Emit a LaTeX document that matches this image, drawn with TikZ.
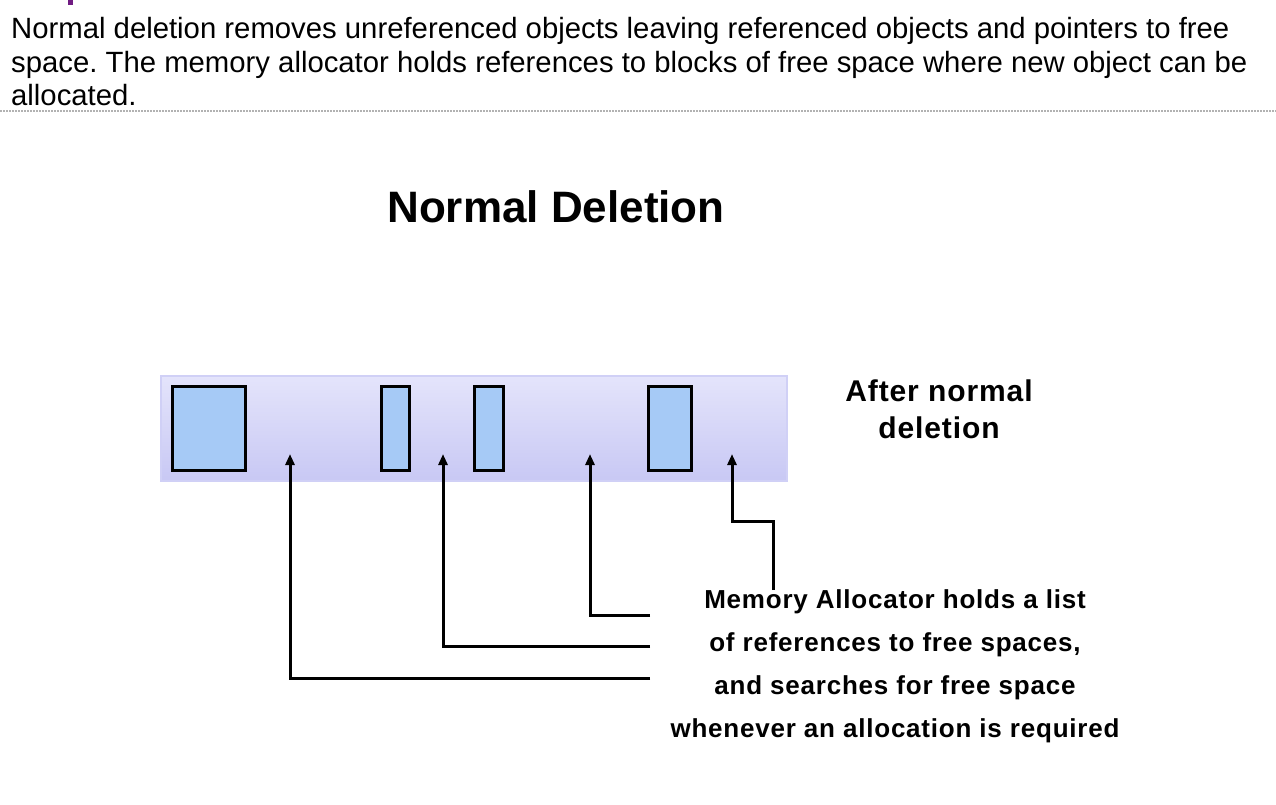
\documentclass[tikz,border=0pt]{standalone}
\usepackage{fontspec}
\setmainfont{Liberation Sans}
\frenchspacing
\usetikzlibrary{arrows.meta}
\definecolor{heaptop}{RGB}{228,228,251}
\definecolor{heapbot}{RGB}{200,200,244}
\definecolor{heapedge}{RGB}{208,208,246}
\definecolor{objfill}{RGB}{166,202,246}
\definecolor{headpurple}{RGB}{112,28,130}

\begin{document}
\begin{tikzpicture}[x=1pt, y=-1pt, >={Triangle[length=11pt,width=9pt]}]
			\tikzstyle{every node}=[align=center, inner sep=0pt]
			\tikzstyle{obj}=[draw, line width=3pt, fill=objfill, minimum height=84pt]
			\tikzstyle{ptr}=[->, line width=3pt]
				\useasboundingbox (0,0) rectangle (1276,804);
				\fill[headpurple] (68,0) rectangle (73,5);

				\node[anchor=base west, font=\fontsize{29.3}{33}\selectfont] (introA) at (11,38) {Normal deletion removes unreferenced objects leaving referenced objects and pointers to free};
				\node[anchor=base west, font=\fontsize{29.3}{33}\selectfont] (introB) at (11,72) {space. The memory allocator holds references to blocks of free space where new object can be};
				\node[anchor=base west, font=\fontsize{29.3}{33}\selectfont] (introC) at (11,105) {allocated.};
				\coordinate (ruleL) at (0,111);
				\coordinate (ruleR) at (1276,111);
				\draw[gray!60, line width=1.2pt, dash pattern=on 1.5pt off 1.5pt] (ruleL) -- (ruleR);

				\node[anchor=base, font=\fontsize{44}{50}\selectfont\bfseries] (title) at (556,222) {Normal Deletion};

				\node[draw=heapedge, line width=2pt, top color=heaptop, bottom color=heapbot, minimum width=626pt, minimum height=105pt] (heap) at (474,428.5) {};
				\node[obj, minimum width=73pt] (objA) at (209,428.5) {};
				\node[obj, minimum width=28pt] (objB) at (395.5,428.5) {};
				\node[obj, minimum width=29pt] (objC) at (489,428.5) {};
				\node[obj, minimum width=43pt] (objD) at (670,428.5) {};

				\node[anchor=north, font=\fontsize{30}{37}\selectfont\bfseries\addfontfeatures{LetterSpace=3}] (state) at (939,380) {After normal \\ deletion};
				\node[anchor=north, font=\fontsize{26}{43}\selectfont\bfseries\addfontfeatures{LetterSpace=3}] (alloc) at (895,589) {Memory Allocator holds a list \\ of references to free spaces, \\ and searches for free space \\ whenever an allocation is required};

				\coordinate (freeA) at (290,454);
				\coordinate (freeB) at (443,454);
				\coordinate (freeC) at (590,454);
				\coordinate (freeD) at (732,454);
				\coordinate (listA) at (650,678);
				\coordinate (listB) at (650,646);
				\coordinate (listC) at (650,615);
				\coordinate (listD) at (773,590);

				\draw[ptr] (listA) -| (freeA);
				\draw[ptr] (listB) -| (freeB);
				\draw[ptr] (listC) -| (freeC);
				\draw[ptr] (listD) -- ++(0,-69) -| (freeD);
			\end{tikzpicture}
\end{document}
